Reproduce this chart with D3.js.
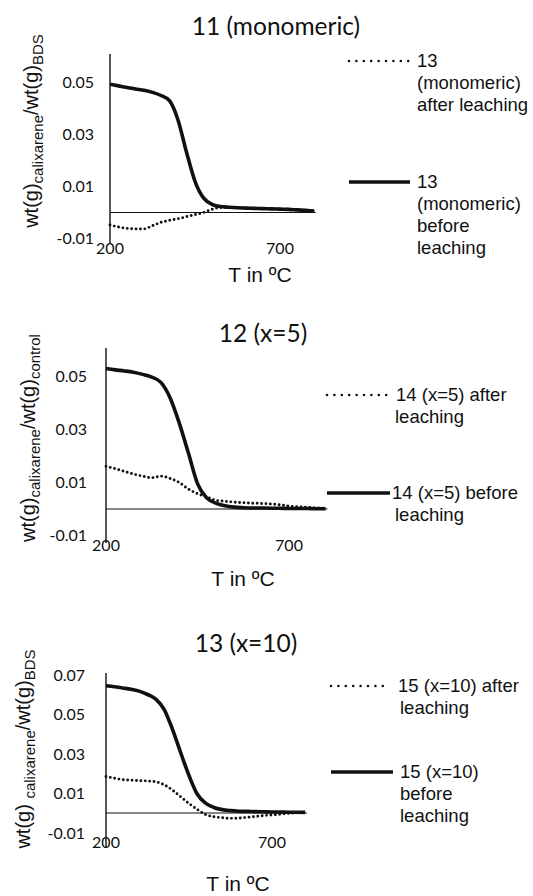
<!DOCTYPE html>
<html>
<head>
<meta charset="utf-8">
<script src="https://cdn.jsdelivr.net/npm/d3@7"></script>
<style>
  body { margin: 0; background: #fff; }
  svg { display: block; }
</style>
</head>
<body>
<div id="chart"></div>
<script>
// temperature grid, same for every panel (degrees C)
var temps = [200, 225, 250, 275, 300, 325, 350, 375, 400, 425, 450, 475, 500,
             525, 550, 575, 600, 625, 650, 675, 700, 725, 750, 775, 800];

// panel 1 : 11 (monomeric)
var p1_before = [0.0493, 0.0487, 0.0481, 0.0475, 0.0470, 0.0462, 0.0450, 0.0430, 0.0356, 0.0232, 0.0120, 0.0056, 0.0031,
                 0.0023, 0.0020, 0.0018, 0.0017, 0.0016, 0.0015, 0.0014, 0.0013, 0.0012, 0.0010, 0.0008, 0.0006];
var p1_after  = [-0.0048, -0.0056, -0.0061, -0.0063, -0.0063, -0.0051, -0.0038, -0.0030, -0.0024, -0.0016, -0.0008, 0.0000, 0.0012,
                 0.0019, 0.0019, 0.0018, 0.0017, 0.0016, 0.0015, 0.0014, 0.0013, 0.0012, 0.0010, 0.0008, 0.0006];

// panel 2 : 12 (x=5)
var p2_before = [0.0530, 0.0525, 0.0521, 0.0516, 0.0508, 0.0498, 0.0478, 0.0420, 0.0325, 0.0212, 0.0096, 0.0042, 0.0022,
                 0.0012, 0.0007, 0.0005, 0.0004, 0.0004, 0.0003, 0.0003, 0.0002, 0.0002, 0.0002, 0.0001, 0.0001];
var p2_after  = [0.0161, 0.0152, 0.0142, 0.0132, 0.0124, 0.0118, 0.0124, 0.0115, 0.0100, 0.0075, 0.0058, 0.0045, 0.0033,
                 0.0029, 0.0026, 0.0024, 0.0022, 0.0021, 0.0019, 0.0016, 0.0011, 0.0008, 0.0006, 0.0004, 0.0003];

// panel 3 : 13 (x=10)
var p3_before = [0.0644, 0.0639, 0.0633, 0.0627, 0.0617, 0.0600, 0.0577, 0.0525, 0.0425, 0.0305, 0.0190, 0.0095, 0.0050,
                 0.0028, 0.0017, 0.0012, 0.0009, 0.0008, 0.0007, 0.0006, 0.0005, 0.0005, 0.0004, 0.0004, 0.0003];
var p3_after  = [0.0185, 0.0176, 0.0169, 0.0166, 0.0164, 0.0162, 0.0158, 0.0143, 0.0116, 0.0082, 0.0048, 0.0018, -0.0008,
                 -0.0019, -0.0024, -0.0027, -0.0026, -0.0022, -0.0018, -0.0013, -0.0010, -0.0006, -0.0002, 0.0001, 0.0003];

var xTicks = [200, 700];
var yTicks12 = [-0.01, 0.01, 0.03, 0.05];
var yTicks3 = [-0.01, 0.01, 0.03, 0.05, 0.07];

var titles = ["11 (monomeric)", "12 (x=5)", "13 (x=10)"];
var xTitle = "T in ºC";
var yTitles = [
  ["wt(g)", "calixarene", "/wt(g)", "BDS"],
  ["wt(g)", "calixarene", "/wt(g)", "control"],
  ["wt(g) ", "calixarene", "/wt(g)", "BDS"]
];
var legendAfter = [["13", "(monomeric)", "after leaching"], ["14 (x=5) after", "leaching"], ["15 (x=10) after", "leaching"]];
var legendBefore = [["13", "(monomeric)", "before", "leaching"], ["14 (x=5) before", "leaching"], ["15 (x=10)", "before", "leaching"]];

// layout of each panel (pixels)
var panels = [
  { before: p1_before, after: p1_after, yTicks: yTicks12,
    x0: 110, x700: 280, y0: 212.5, yPer: 2600, axTop: 54, axBot: 243,
    titleX: 276, titleY: 35, tickRight: 94, xTickY: 254, xTitleX: 260, xTitleY: 282, yTitleX: 31, yTitleY: 131,
    legX: 349, dotW: 60, solidW: 61, legAfterY: 61, legBeforeY: 182,
    afterTextX: 417, beforeTextX: 417, textX: 417, lineGap: 22 },
  { before: p2_before, after: p2_after, yTicks: yTicks12,
    x0: 106, x700: 289, y0: 509, yPer: 2650, axTop: 348, axBot: 543,
    titleX: 263, titleY: 342, tickRight: 87, xTickY: 551, xTitleX: 243, xTitleY: 586, yTitleX: 28, yTitleY: 438,
    legX: 327, dotW: 61, solidW: 63, legAfterY: 395, legBeforeY: 493,
    afterTextX: 396, beforeTextX: 392, textX: 395, lineGap: 22 },
  { before: p3_before, after: p3_after, yTicks: yTicks3,
    x0: 106, x700: 272, y0: 813, yPer: 1975, axTop: 673, axBot: 848,
    titleX: 246, titleY: 652, tickRight: 85, xTickY: 848, xTitleX: 238, xTitleY: 891, yTitleX: 23, yTitleY: 749,
    legX: 331, dotW: 57, solidW: 62, legAfterY: 686, legBeforeY: 772,
    afterTextX: 398, beforeTextX: 400, textX: 400, lineGap: 22 }
];

var svg = d3.select("#chart").append("svg")
    .attr("width", 533)
    .attr("height", 896);

var ink = "#111";
var arial = "'Liberation Sans', Arial, sans-serif";
var calib = "Lato, 'Open Sans', sans-serif";

panels.forEach(function(p, i) {
  var g = svg.append("g");

  var x = d3.scaleLinear().domain([200, 700]).range([p.x0, p.x700]);
  var y = d3.scaleLinear().domain([0, 0.01]).range([p.y0, p.y0 - p.yPer * 0.01]);

  // title
  g.append("text")
    .attr("x", p.titleX).attr("y", p.titleY)
    .attr("text-anchor", "middle")
    .style("font-family", calib).style("font-size", "24.5px").attr("fill", ink)
    .text(titles[i]);

  // zero line and vertical axis
  g.append("line")
    .attr("x1", x(200)).attr("x2", x(805))
    .attr("y1", y(0)).attr("y2", y(0))
    .attr("stroke", ink).attr("stroke-width", 1.2);
  g.append("line")
    .attr("x1", x(200)).attr("x2", x(200))
    .attr("y1", p.axTop).attr("y2", p.axBot)
    .attr("stroke", ink).attr("stroke-width", 1.4);

  // y tick labels
  g.selectAll(".ytick").data(p.yTicks).enter().append("text")
    .attr("x", p.tickRight)
    .attr("y", function(d) { return y(d); })
    .attr("dy", "0.36em")
    .attr("text-anchor", "end")
    .style("font-family", calib).style("font-size", "16px").attr("fill", ink)
    .text(function(d) { return d3.format(".2f")(d).replace("−", "-"); });

  // x tick labels
  g.selectAll(".xtick").data(xTicks).enter().append("text")
    .attr("x", function(d) { return x(d); })
    .attr("y", p.xTickY)
    .attr("text-anchor", "middle")
    .style("font-family", calib).style("font-size", "16px").attr("fill", ink)
    .text(function(d) { return d; });

  // axis titles
  g.append("text")
    .attr("x", p.xTitleX).attr("y", p.xTitleY)
    .attr("text-anchor", "middle")
    .style("font-family", arial).style("font-size", "21px").attr("fill", ink)
    .text(xTitle);

  var yt = g.append("text")
    .attr("transform", "translate(" + p.yTitleX + "," + p.yTitleY + ") rotate(-90)")
    .attr("text-anchor", "middle")
    .attr("dy", "0.35em")
    .style("font-family", arial).style("font-size", "20px").attr("fill", ink);
  yTitles[i].forEach(function(s, k) {
    var t = yt.append("tspan").text(s);
    if (k % 2 == 1) t.style("font-size", "15px").attr("dy", "5");
    else if (k > 0) t.attr("dy", "-5");
  });

  // curves
  var line = d3.line()
    .x(function(d, j) { return x(temps[j]); })
    .y(function(d) { return y(d); })
    .curve(d3.curveMonotoneX);

  g.append("path").datum(p.after)
    .attr("d", line)
    .attr("fill", "none").attr("stroke", ink)
    .attr("stroke-width", 2.9)
    .attr("stroke-linecap", "round")
    .attr("stroke-dasharray", "0 4.4");

  g.append("path").datum(p.before)
    .attr("d", line)
    .attr("fill", "none").attr("stroke", ink)
    .attr("stroke-width", 3.6);

  // legend
  g.append("line")
    .attr("x1", p.legX).attr("x2", p.legX + p.dotW)
    .attr("y1", p.legAfterY).attr("y2", p.legAfterY)
    .attr("stroke", ink).attr("stroke-width", 2.6)
    .attr("stroke-linecap", "round")
    .attr("stroke-dasharray", "0 7.4");
  g.append("line")
    .attr("x1", p.legX).attr("x2", p.legX + p.solidW)
    .attr("y1", p.legBeforeY).attr("y2", p.legBeforeY)
    .attr("stroke", ink).attr("stroke-width", 3.6);

  legendAfter[i].forEach(function(s, k) {
    g.append("text")
      .attr("x", k == 0 ? p.afterTextX : p.textX)
      .attr("y", p.legAfterY + k * p.lineGap)
      .attr("dy", "0.35em")
      .style("font-family", arial).style("font-size", "18.5px").attr("fill", ink)
      .text(s);
  });
  legendBefore[i].forEach(function(s, k) {
    g.append("text")
      .attr("x", k == 0 ? p.beforeTextX : p.textX)
      .attr("y", p.legBeforeY + k * p.lineGap)
      .attr("dy", "0.35em")
      .style("font-family", arial).style("font-size", "18.5px").attr("fill", ink)
      .text(s);
  });
});
</script>
</body>
</html>
